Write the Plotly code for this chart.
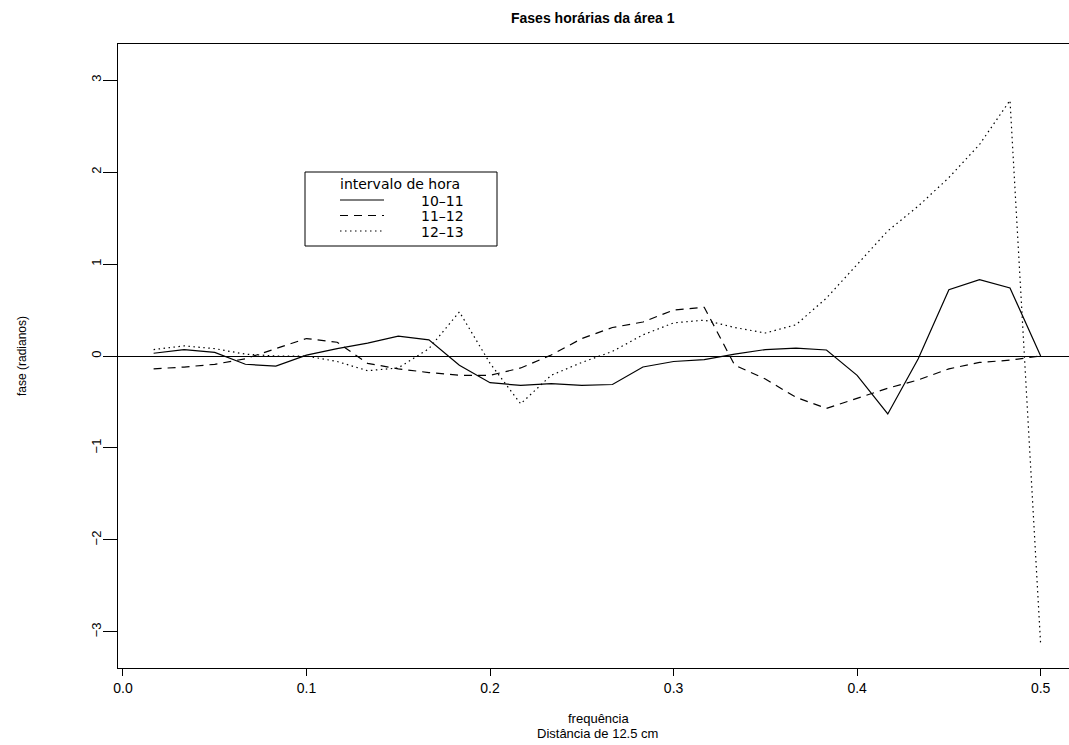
import plotly.graph_objects as go

# Frequências de Fourier (k/60) e fases estimadas por intervalo de hora
freq = [0.0167, 0.0333, 0.05, 0.0667, 0.0833, 0.1, 0.1167, 0.1333, 0.15, 0.1667,
        0.1833, 0.2, 0.2167, 0.2333, 0.25, 0.2667, 0.2833, 0.3, 0.3167, 0.3333,
        0.35, 0.3667, 0.3833, 0.4, 0.4167, 0.4333, 0.45, 0.4667, 0.4833, 0.5]

fase_10_11 = [0.03, 0.07, 0.04, -0.09, -0.11, 0.01, 0.08, 0.14, 0.215, 0.175,
              -0.10, -0.29, -0.32, -0.30, -0.32, -0.31, -0.12, -0.06, -0.04, 0.02,
              0.07, 0.085, 0.065, -0.21, -0.63, -0.03, 0.72, 0.83, 0.74, 0.0]

fase_11_12 = [-0.14, -0.12, -0.09, -0.03, 0.08, 0.19, 0.15, -0.08, -0.14, -0.18,
              -0.21, -0.21, -0.13, 0.01, 0.19, 0.31, 0.37, 0.50, 0.53, -0.10,
              -0.25, -0.45, -0.57, -0.46, -0.35, -0.26, -0.14, -0.07, -0.045, 0.0]

fase_12_13 = [0.07, 0.11, 0.08, 0.02, 0.0, 0.0, -0.06, -0.16, -0.13, 0.08,
              0.48, -0.08, -0.52, -0.21, -0.07, 0.05, 0.23, 0.36, 0.39, 0.31,
              0.25, 0.34, 0.63, 1.0, 1.36, 1.63, 1.94, 2.3, 2.78, -3.14]

intervalos = ["10–11", "11–12", "12–13"]
y_ticks = [-3, -2, -1, 0, 1, 2, 3]
x_ticks = [0.0, 0.1, 0.2, 0.3, 0.4, 0.5]
x_tick_labels = ["0.0", "0.1", "0.2", "0.3", "0.4", "0.5"]

series = [fase_10_11, fase_11_12, fase_12_13]
dashes = ["solid", "8px,6px", "1.5px,3.5px"]

FONT = "Liberation Sans, Arial, Helvetica, sans-serif"
LEG_FONT = "DejaVu Sans, Liberation Sans, sans-serif"

fig = go.Figure()
for nome, valores, dash in zip(intervalos, series, dashes):
    fig.add_trace(go.Scatter(
        x=freq, y=valores, mode="lines", name=nome, showlegend=False,
        line=dict(color="black", width=1.2, dash=dash),
    ))

# plot area in pixels: left 118, right 1069, top 44, bottom 668
L, R, T, B = 118, 1069, 44, 668


def px(x):
    return (x - L) / (R - L)


def py(y):
    return (B - y) / (B - T)


shapes = []
annotations = []

# legend box drawn by hand
shapes.append(dict(type="rect", xref="paper", yref="paper",
                   x0=px(305), x1=px(497), y0=py(246), y1=py(172),
                   line=dict(color="black", width=1), fillcolor="white", layer="above"))
annotations.append(dict(text="intervalo de hora", xref="paper", yref="paper",
                        x=px(400), y=py(184), showarrow=False,
                        xanchor="center", yanchor="middle", borderpad=0,
                        font=dict(family=LEG_FONT, size=14, color="black")))
for k, (nome, dash) in enumerate(zip(intervalos, dashes)):
    yy = 200 + k * 15.5
    shapes.append(dict(type="line", xref="paper", yref="paper",
                       x0=px(340), x1=px(384), y0=py(yy), y1=py(yy),
                       line=dict(color="black", width=1.2, dash=dash), layer="above"))
    annotations.append(dict(text=nome, xref="paper", yref="paper",
                            x=px(420), y=py(yy + 0.5), showarrow=False,
                            xanchor="left", yanchor="middle", borderpad=0,
                            font=dict(family=LEG_FONT, size=14, color="black")))

# axis titles
annotations.append(dict(text="fase (radianos)", xref="paper", yref="paper",
                        x=px(22), y=py(356), showarrow=False, textangle=-90,
                        xanchor="center", yanchor="middle",
                        font=dict(family=FONT, size=12, color="black")))
annotations.append(dict(text="frequência", xref="paper", yref="paper",
                        x=px(598), y=py(718), showarrow=False,
                        xanchor="center", yanchor="middle",
                        font=dict(family=FONT, size=13, color="black")))
annotations.append(dict(text="Distância de 12.5 cm", xref="paper", yref="paper",
                        x=px(597), y=py(733), showarrow=False,
                        xanchor="center", yanchor="middle",
                        font=dict(family=FONT, size=13, color="black")))
# title
annotations.append(dict(text="<b>Fases horárias da área 1</b>", xref="paper", yref="paper",
                        x=px(593), y=py(18), showarrow=False,
                        xanchor="center", yanchor="middle",
                        font=dict(family=FONT, size=14, color="black")))

x_per_px = 0.5 / (1041 - 123.3)
x0 = -0.0027
x1 = x0 + (R - L) * x_per_px

fig.update_layout(
    width=1069, height=745,
    margin=dict(l=L, r=1069 - R, t=T, b=745 - B),
    paper_bgcolor="white", plot_bgcolor="white",
    font=dict(family=FONT, size=13, color="black"),
    shapes=shapes, annotations=annotations,
    xaxis=dict(range=[x0, x1], tickvals=x_ticks, ticktext=x_tick_labels,
               ticks="outside", ticklen=7, tickwidth=1, tickcolor="black",
               showline=True, linecolor="black", linewidth=1, mirror=True,
               showgrid=False, zeroline=False,
               tickfont=dict(family=FONT, size=14)),
    yaxis=dict(range=[-3.393, 3.393], tickvals=y_ticks,
               ticks="outside", ticklen=14, tickwidth=1, tickcolor="black",
               tickangle=-90, ticklabelstandoff=-3,
               showline=True, linecolor="black", linewidth=1, mirror=False,
               showgrid=False, zeroline=True, zerolinecolor="black", zerolinewidth=1,
               tickfont=dict(family=FONT, size=13)),
)

fig.write_html("out.html")
